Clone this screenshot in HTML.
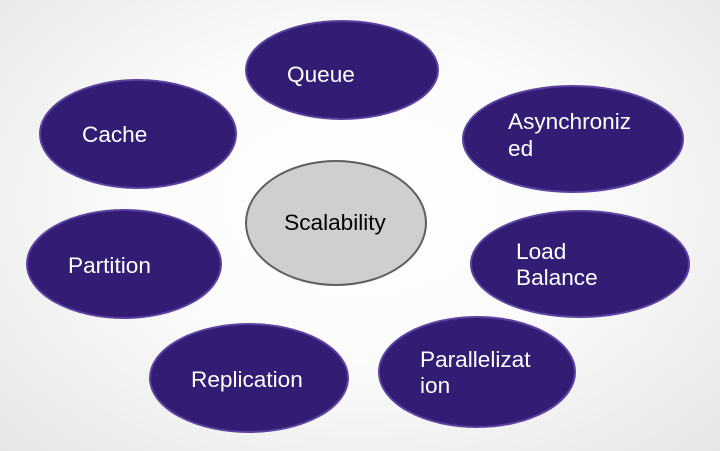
<!DOCTYPE html>
<html><head><meta charset="utf-8"><style>
html,body{margin:0;padding:0;width:720px;height:451px;overflow:hidden}
body{background:radial-gradient(ellipse at 50% 45%,#ffffff 0%,#fbfbfb 45%,#e6e6e6 100%)}
svg{position:absolute;left:0;top:0}
text{font-family:"Liberation Sans",Arial,sans-serif;font-size:22.6px}
</style></head><body>
<svg width="720" height="451" viewBox="0 0 720 451">
<g fill="#331c73" stroke="#5b41a0" stroke-width="2">
<ellipse cx="342" cy="70" rx="96" ry="49"/>
<ellipse cx="138" cy="134" rx="98" ry="54"/>
<ellipse cx="573" cy="139" rx="110" ry="53"/>
<ellipse cx="124" cy="264" rx="97" ry="54"/>
<ellipse cx="580" cy="264" rx="109" ry="53"/>
<ellipse cx="249" cy="378" rx="99" ry="54"/>
<ellipse cx="477" cy="372" rx="98" ry="55"/>
</g>
<ellipse cx="336" cy="223" rx="90" ry="62" fill="#cfcfcf" stroke="#5f5f5f" stroke-width="2"/>
<g fill="#fff">
<text x="287" y="82">Queue</text>
<text x="82" y="142">Cache</text>
<text x="508" y="129">Asynchroniz</text>
<text x="508" y="156">ed</text>
<text x="68" y="273">Partition</text>
<text x="516" y="259">Load</text>
<text x="516" y="285">Balance</text>
<text x="191" y="387">Replication</text>
<text x="420" y="367">Parallelizat</text>
<text x="420" y="393">ion</text>
</g>
<text x="335" y="230" text-anchor="middle" fill="#000">Scalability</text>
</svg>
</body></html>
